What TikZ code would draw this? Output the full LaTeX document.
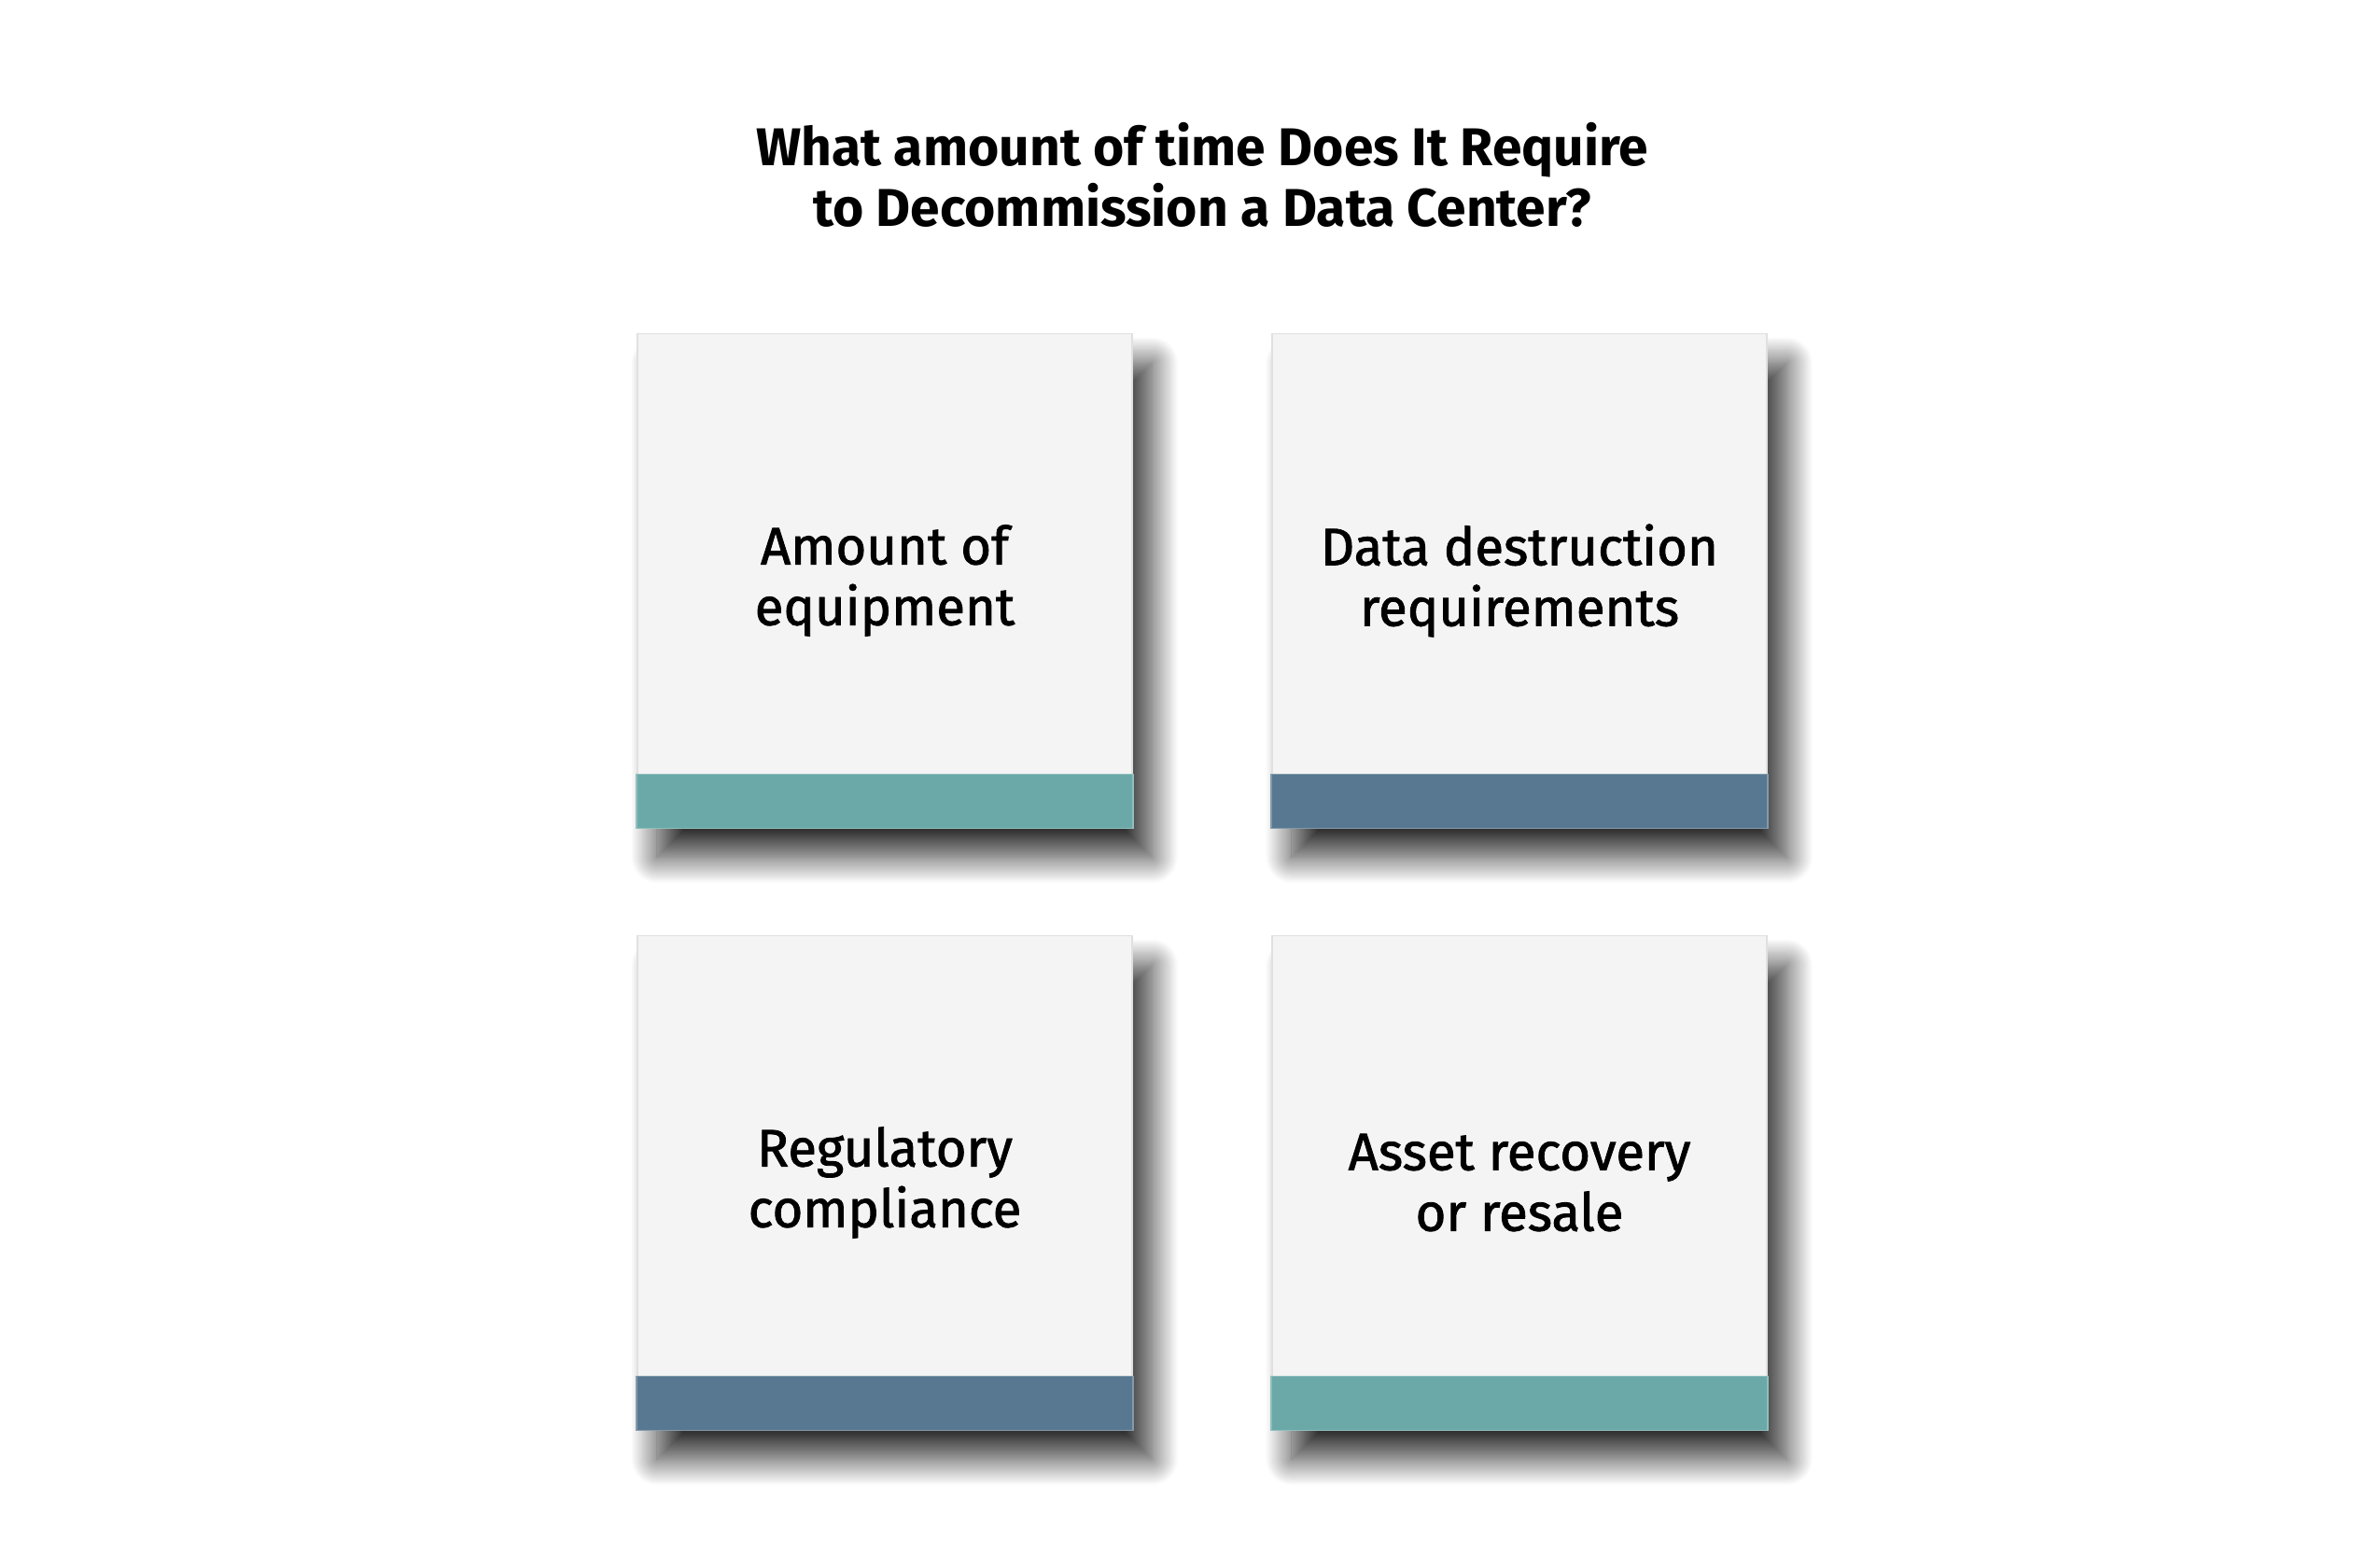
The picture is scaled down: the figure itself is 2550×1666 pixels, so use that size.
\documentclass[tikz,border=0pt]{standalone}
\usepackage{xcolor}
\usepackage{fontspec}
\setmainfont{Fira Sans}
\newfontfamily\cardfont[FakeBold=1.5]{Fira Sans}
\usetikzlibrary{shadows.blur}
\definecolor{cardgray}{HTML}{F4F4F4}
\definecolor{tealbar}{HTML}{6BA9A8}
\definecolor{slatebar}{HTML}{587891}

\begin{document}
\begin{tikzpicture}[x=0.01cm, y=-0.01cm,
    card/.style={draw=black!12, fill=cardgray, inner sep=0pt,
      minimum width=5.3cm, minimum height=5.29cm, align=center,
      font=\cardfont\fontsize{16}{18.5}\selectfont,
      blur shadow={shadow xshift=6pt, shadow yshift=-9pt,
        shadow blur radius=8pt, shadow blur steps=30, shadow opacity=80}},
    band/.style={fill=#1, draw=#1!75!white, line width=0.4pt}]
  \useasboundingbox (0,0) rectangle (2550,1666);

  \node[font=\bfseries\fontsize{16.2}{18.5}\selectfont, align=center] (title)
    at (1288,187) {What amount of time Does It Require\\to Decommission a Data Center?};

  % the four cards
  \node[card] (equip)  at (948,622)  {Amount of\\equipment};
  \node[card] (destr)  at (1628,622) {Data destruction\\requirements};
  \node[card] (regul)  at (948,1267) {Regulatory\\compliance};
  \node[card] (asset)  at (1628,1267) {Asset recovery\\or resale};

  % coloured strips along the bottom
  \path[band=tealbar]  ([yshift=0.58cm]equip.south west) rectangle (equip.south east);
  \path[band=slatebar] ([yshift=0.58cm]destr.south west) rectangle (destr.south east);
  \path[band=slatebar] ([yshift=0.58cm]regul.south west) rectangle (regul.south east);
  \path[band=tealbar]  ([yshift=0.58cm]asset.south west) rectangle (asset.south east);
\end{tikzpicture}
\end{document}
